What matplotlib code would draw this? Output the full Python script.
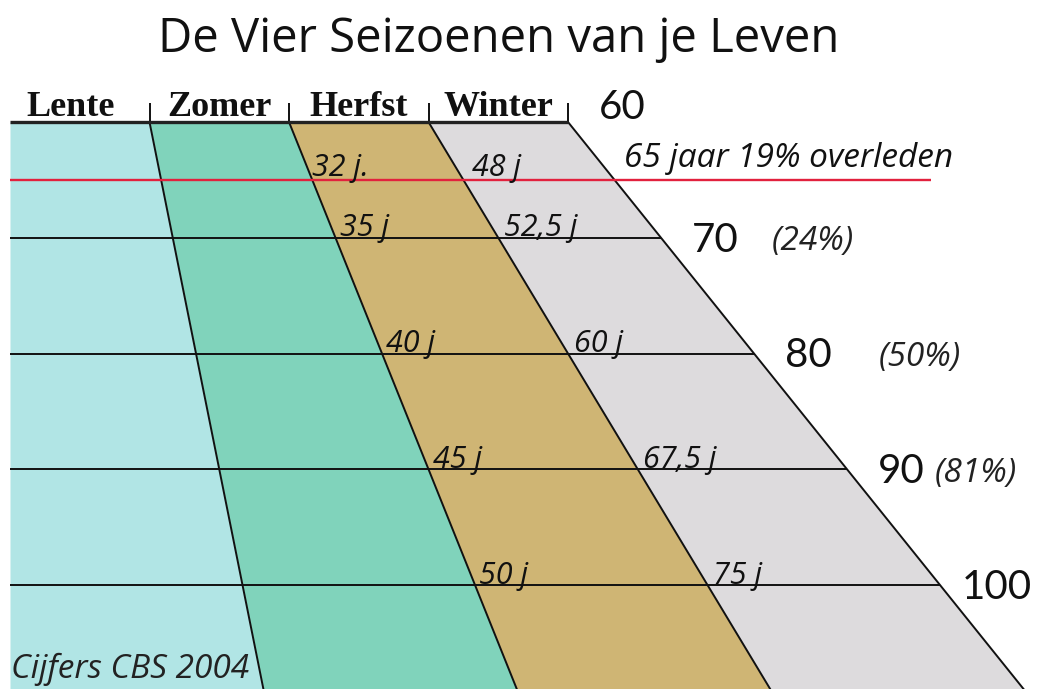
import matplotlib.pyplot as plt
import numpy as np

# seasons of life: each season is a quarter of the lifespan
seasons = ['Lente', 'Zomer', 'Herfst', 'Winter']
season_colors = ['#b1e5e5', '#80d3bb', '#cfb574', '#dddbdd']

lifespans = [60, 70, 80, 90, 100]
lifespan_labels = ['60', '70', '80', '90', '100']
pct_labels = ['', '(24%)', '(50%)', '(81%)', '']
half_labels = ['', '35 j', '40 j', '45 j', '50 j']
three_q_labels = ['', '52,5 j', '60 j', '67,5 j', '75 j']

marker_age = 65
marker_half = '32 j.'
marker_three_q = '48 j'
marker_text = '65 jaar 19% overleden'

title = 'De Vier Seizoenen van je Leven'
source = 'Cijfers CBS 2004'

# pixel scale of the original picture
W, H = 1047, 689
x0, sx = 10, 9.3      # px at age 0, px per year
y0, sy = 122, 11.575  # px at lifespan 60, px per year

fig = plt.figure(figsize=(W / 100, H / 100), dpi=100)
ax = fig.add_axes([0, 0, 1, 1])
ax.set_xlim(-x0 / sx, (W - x0) / sx)
ax.set_ylim(60 + (H - y0) / sy, 60 - y0 / sy)
ax.axis('off')

hand = dict(family=['Open Sans', 'DejaVu Sans'], style='italic')
nums = dict(family=['Lato', 'DejaVu Sans'])

# bands
L = np.array([60, 115])
for i, (name, col) in enumerate(zip(seasons, season_colors)):
    ax.fill_betweenx(L, L * i / 4, L * (i + 1) / 4, color=col, lw=0, zorder=1)
    ax.plot(L * (i + 1) / 4, L, color='#111111', lw=1.4, zorder=3)
    cx = (i + 0.5) * 60 / 4 - (1 if i == 0 else 0)
    ax.text(cx, 59.45, name, ha='center', va='baseline',
            family=['Liberation Serif', 'DejaVu Serif'],
            fontweight='bold', fontsize=26, color='#111111')

# header ticks and top line
ax.vlines([60 * (k + 1) / 4 for k in range(4)], 58.4, 60, color='#111111', lw=1.4, zorder=3)
ax.hlines(60, 0, 60, color='#222222', lw=2.4, zorder=3)

# lifespan lines
for life in lifespans[1:]:
    ax.hlines(life, 0, life, color='#111111', lw=1.4, zorder=3)

for k, life in enumerate(lifespans):
    dy = 2 if k == 0 else -10
    dx = 16 if k == 4 else 22
    ax.annotate(lifespan_labels[k], (life, life), xytext=(dx, dy), textcoords='offset points',
                ha='left', va='baseline', fontsize=29, color='#111111', **nums)
    if pct_labels[k]:
        pdx = [0, 80, 90, 63, 0][k]
        ax.annotate(pct_labels[k], (life, life), xytext=(pdx, -9), textcoords='offset points',
                    ha='left', va='baseline', fontsize=24, color='#222222', **hand)
    if half_labels[k]:
        ax.annotate(half_labels[k], (life / 2, life), xytext=(3, 1), textcoords='offset points',
                    ha='left', va='baseline', fontsize=22, color='#111111', **hand)
        ax.annotate(three_q_labels[k], (life * 3 / 4, life), xytext=(4, 1), textcoords='offset points',
                    ha='left', va='baseline', fontsize=22, color='#111111', **hand)

# 65-year marker
ax.hlines(marker_age, 0, 99, color='#e2213d', lw=1.7, zorder=4)
ax.annotate(marker_half, (marker_age / 2, marker_age), xytext=(0, 3), textcoords='offset points',
            ha='left', va='baseline', fontsize=22, color='#111111', zorder=5, **hand)
ax.annotate(marker_three_q, (marker_age * 3 / 4, marker_age), xytext=(6, 3), textcoords='offset points',
            ha='left', va='baseline', fontsize=22, color='#111111', zorder=5, **hand)
ax.annotate(marker_text, (marker_age + 1, marker_age), xytext=(0, 9), textcoords='offset points',
            ha='left', va='baseline', fontsize=24, color='#111111', **hand)

fig.text(499 / W, 1 - 52 / H, title, ha='center', va='baseline', fontsize=34,
         family=['Open Sans', 'DejaVu Sans'], color='#111111')
ax.annotate(source, (0, 108), xytext=(1, 0), textcoords='offset points', ha='left', va='baseline',
            fontsize=24, color='#222222', **hand)

fig.savefig('out.png', dpi=100, facecolor='white')
